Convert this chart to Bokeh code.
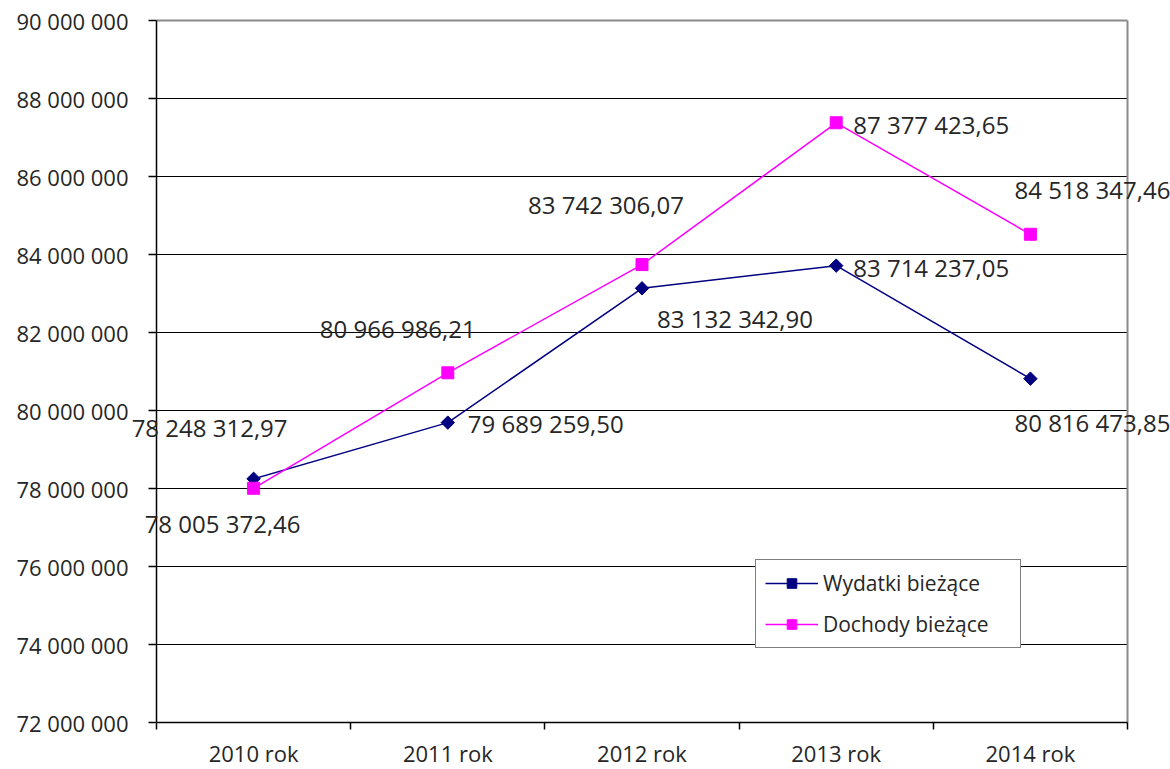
import math
from bokeh.plotting import figure
from bokeh.models import (Label, Legend, LegendItem, FixedTicker,
                          CustomJSTickFormatter, Range1d)
from bokeh.embed import file_html
from bokeh.resources import INLINE

years = ["2010 rok", "2011 rok", "2012 rok", "2013 rok", "2014 rok"]
wydatki = [78248312.97, 79689259.50, 83132342.90, 83714237.05, 80816473.85]
dochody = [78005372.46, 80966986.21, 83742306.07, 87377423.65, 84518347.46]
y_ticks = [72000000, 74000000, 76000000, 78000000, 80000000, 82000000, 84000000, 86000000, 88000000, 90000000]

# label placement (screen px offsets from each point)
w_dx = [-44, 98, 93, 95, 62]
w_dy = [51, -1, -30, -2, -44]
d_dx = [-31, -50, -36, 95, 62]
d_dy = [-35, 44, 60, -2, 45]

FONT = "Open Sans"
TXT = "#262626"
W, H = 1170, 769
PLOT_L, PLOT_R = 156, 1127   # pixel extent of the plot area
PLOT_T, PLOT_B = 20, 722

def fmt(v):
    return f"{v:,.2f}".replace(",", " ").replace(".", ",")

n = len(years)
xs = [i + 0.5 for i in range(n)]
px_x = (PLOT_R - PLOT_L) / n
x_start = -PLOT_L / px_x
x_end = n + (W - PLOT_R) / px_x
y_lo, y_hi = y_ticks[0], y_ticks[-1]
px_y = (PLOT_B - PLOT_T) / (y_hi - y_lo)
y_start = y_lo - (H - PLOT_B) / px_y
y_end = y_hi + PLOT_T / px_y

p = figure(width=W, height=H, output_backend="svg", toolbar_location=None,
           x_range=Range1d(x_start, x_end), y_range=Range1d(y_start, y_end),
           min_border_left=0, min_border_right=0, min_border_top=0, min_border_bottom=0)
p.background_fill_color = "white"
p.border_fill_color = "white"
p.outline_line_color = None

# x axis, drawn at the bottom of the plot area
p.xaxis.fixed_location = y_lo
p.xaxis.ticker = FixedTicker(ticks=xs, minor_ticks=list(range(n + 1)))
p.xaxis.bounds = (0, n)
p.xaxis.major_label_overrides = {x: y for x, y in zip(xs, years)}
p.xaxis.major_tick_line_color = None
p.xaxis.major_tick_out = 0
p.xaxis.major_tick_in = 0
p.xaxis.minor_tick_line_color = "black"
p.xaxis.minor_tick_line_width = 1.5
p.xaxis.minor_tick_in = 0
p.xaxis.minor_tick_out = 7
p.xaxis.axis_line_color = "black"
p.xaxis.axis_line_width = 1.5
p.xaxis.major_label_text_font = FONT
p.xaxis.major_label_text_font_size = "22px"
p.xaxis.major_label_text_color = TXT
p.xaxis.major_label_standoff = 8
p.xaxis.axis_label_standoff = 0

# y axis, drawn at the left edge of the plot area
p.yaxis.fixed_location = 0
p.yaxis.bounds = (y_lo, y_hi)
p.yaxis.ticker = FixedTicker(ticks=y_ticks, minor_ticks=[])
p.yaxis.formatter = CustomJSTickFormatter(
    code="return Math.round(tick).toString().replace(/\\B(?=(\\d{3})+(?!\\d))/g, ' ');")
p.yaxis.major_tick_in = 0
p.yaxis.major_tick_out = 8
p.yaxis.major_tick_line_width = 1.5
p.yaxis.minor_tick_line_color = None
p.yaxis.axis_line_color = "black"
p.yaxis.axis_line_width = 1.5
p.yaxis.major_label_text_font = FONT
p.yaxis.major_label_text_font_size = "22px"
p.yaxis.major_label_text_color = TXT
p.yaxis.major_label_standoff = 20

p.xgrid.grid_line_color = None
p.ygrid.grid_line_color = None

# gridlines limited to the plot area
inner = y_ticks[1:-1]
p.segment(x0=[0] * len(inner), y0=inner, x1=[n] * len(inner), y1=inner,
          line_color="black", line_width=1.2)
# grey frame (top and right)
p.segment(x0=[0, n], y0=[y_hi, y_lo], x1=[n, n], y1=[y_hi, y_hi],
          line_color="#8a8a8a", line_width=2)

# series
rw_l = p.line(xs, wydatki, line_color="#000080", line_width=1.5)
rw_m = p.scatter(xs, wydatki, marker="square", angle=math.pi / 4, size=9.5,
                 fill_color="#000080", line_color="#000080")
rd_l = p.line(xs, dochody, line_color="#FF00FF", line_width=1.5)
rd_m = p.scatter(xs, dochody, marker="square", size=12, fill_color="#FF00FF", line_color="#FF00FF")

# data labels
for series, dxs, dys in ((wydatki, w_dx, w_dy), (dochody, d_dx, d_dy)):
    for x, v, dx, dy in zip(xs, series, dxs, dys):
        p.add_layout(Label(x=x, y=v, text=fmt(v), x_offset=dx, y_offset=dy,
                           text_align="center", text_baseline="middle",
                           text_font=FONT, text_font_size="24px", text_color=TXT))

legend = Legend(items=[LegendItem(label="Wydatki bieżące", renderers=[rw_l, rw_m]),
                       LegendItem(label="Dochody bieżące", renderers=[rd_l, rd_m])],
                location=(755, H - 648), orientation="vertical")
legend.margin = 0
legend.padding = 9
legend.spacing = 13
legend.glyph_width = 53
legend.glyph_height = 24
legend.label_height = 24
legend.label_width = 188
legend.label_standoff = 5
legend.label_text_font = FONT
legend.label_text_font_size = "21px"
legend.label_text_color = TXT
legend.border_line_color = "black"
legend.border_line_width = 1.5
legend.background_fill_color = "white"
legend.background_fill_alpha = 1.0
p.add_layout(legend, "center")

open("out.html", "w").write(file_html(p, INLINE))
